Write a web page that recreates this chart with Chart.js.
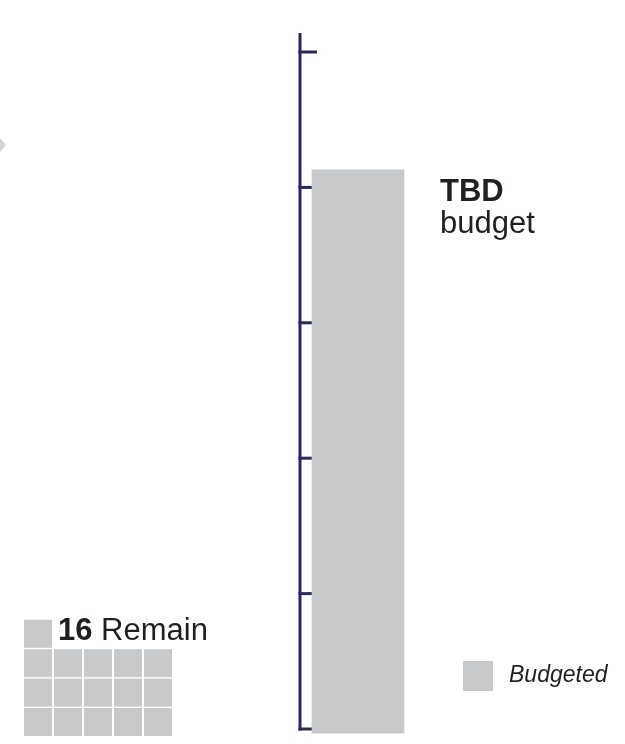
<!DOCTYPE html>
<html>
<head>
<meta charset="utf-8">
<title>Budget</title>
<script src="https://cdn.jsdelivr.net/npm/chart.js@4"></script>
<style>
	html, body { margin: 0; padding: 0; background: #fff; }
	#box { position: relative; width: 625px; height: 744px; }
</style>
</head>
<body>
<div id="box"><canvas id="chart"></canvas></div>
<script>
/* Values. */

const categories = ['Budgeted'];
const budgetValues = [4.13];
const tickValues = [0, 1, 2, 3, 4, 5];
const remainCount = 16;
const headline = ['TBD', 'budget'];

const grey = '#c8c9cb';
const navy = '#262a5c';
const ink = '#231f20';
const font = '"Liberation Sans", Arial, sans-serif';

/**
 * Draw the vertical axis with its inward ticks, below the bar.
 */
const axisPlugin = {
	id: 'axis',
	beforeDatasetsDraw(chart) {
		const ctx = chart.ctx;
		const y = chart.scales.y;
		const x0 = chart.chartArea.left;
		ctx.save();
		ctx.strokeStyle = navy;
		ctx.lineWidth = 3;
		ctx.lineCap = 'butt';
		ctx.beginPath();
		ctx.moveTo(x0, y.getPixelForValue(0) + 1.5);
		ctx.lineTo(x0, y.getPixelForValue(5) - 19);
		ctx.stroke();
		for (const v of tickValues) {
			const py = y.getPixelForValue(v);
			ctx.beginPath();
			ctx.moveTo(x0 - 1.5, py);
			ctx.lineTo(x0 + 17, py);
			ctx.stroke();
		}
		ctx.restore();
	}
};

/**
 * Draw the notes round the chart: headline, waffle of what remains,
 * legend and the clipped marker on the far left.
 */
const notesPlugin = {
	id: 'notes',
	afterDraw(chart) {
		const ctx = chart.ctx;
		ctx.save();

		/* Clipped marker at the left edge. */

		ctx.fillStyle = '#d2d3d5';
		ctx.beginPath();
		ctx.moveTo(0, 138);
		ctx.lineTo(6, 145);
		ctx.lineTo(0, 152);
		ctx.closePath();
		ctx.fill();

		/* Headline next to the bar. */

		ctx.fillStyle = ink;
		ctx.textBaseline = 'alphabetic';
		ctx.font = 'bold 31px ' + font;
		ctx.fillText(headline[0], 440, 201);
		ctx.font = '31px ' + font;
		ctx.fillText(headline[1], 440, 233);

		/* Waffle: rows of five from the bottom up. */

		ctx.fillStyle = grey;
		for (let i = 0; i < remainCount; i++) {
			const col = i % 5;
			const row = Math.floor(i / 5);
			ctx.fillRect(24 + col * 30, 708 - row * 29.4, 28, 28);
		}
		ctx.fillStyle = ink;
		ctx.font = 'bold 31px ' + font;
		const num = String(remainCount);
		ctx.fillText(num, 58, 640);
		const w = ctx.measureText(num + ' ').width;
		ctx.font = '31px ' + font;
		ctx.fillText('Remain', 58 + w, 640);

		/* Legend. */

		ctx.fillStyle = grey;
		ctx.fillRect(463, 661, 30, 30);
		ctx.fillStyle = ink;
		ctx.font = 'italic 23px ' + font;
		ctx.fillText(categories[0], 509, 682);

		ctx.restore();
	}
};

window.addEventListener('load', () => {
	new Chart(document.getElementById('chart'), {
		type: 'bar',
		data: {
			labels: categories,
			datasets: [{
				label: categories[0],
				data: budgetValues,
				backgroundColor: grey,
				borderWidth: 0,
				barThickness: 92,
				base: -0.03,
				clip: false,
			}]
		},
		options: {
			responsive: true,
			maintainAspectRatio: false,
			animation: false,
			layout: {
				padding: { left: 300, right: 209, top: 52, bottom: 15 },
			},
			plugins: {
				legend: { display: false },
				tooltip: { enabled: false },
			},
			scales: {
				x: { display: false },
				y: {
					display: false,
					min: 0,
					max: 5,
				},
			}
		},
		plugins: [axisPlugin, notesPlugin],
	});
});
</script>
</body>
</html>
